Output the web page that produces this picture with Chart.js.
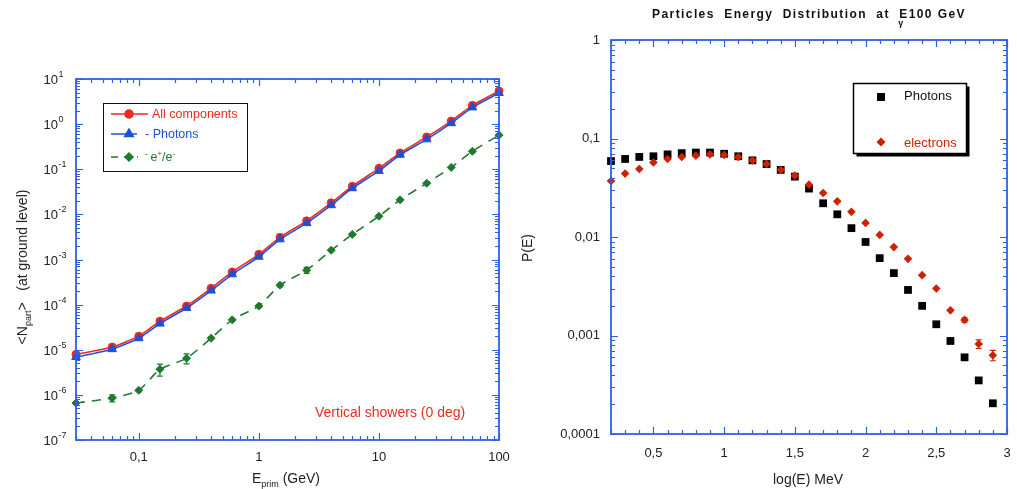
<!DOCTYPE html>
<html>
<head>
<meta charset="utf-8">
<title>Particles at ground level</title>
<script src="https://cdn.jsdelivr.net/npm/chart.js@4.4.1/dist/chart.umd.min.js"></script>
<style>
  html, body { margin: 0; padding: 0; background: #fff; }
  #wrap { position: relative; width: 1017px; height: 489px; overflow: hidden; }
  #left { position: absolute; left: 0; top: 0; }
  #right { position: absolute; left: 510px; top: 0; }
</style>
</head>
<body>
<div id="wrap">
  <canvas id="left" width="510" height="489"></canvas>
  <canvas id="right" width="507" height="489"></canvas>
</div>
<script>
// ---- Left chart: <N_part> at ground level vs primary energy ----
const energies = [0.03, 0.06, 0.1, 0.15, 0.25, 0.4, 0.6, 1, 1.5, 2.5, 4, 6, 10, 15, 25, 40, 60, 100];
const allComponents = [7.9e-6, 1.15e-5, 2.0e-5, 4.3e-5, 9.3e-5, 2.3e-4, 5.3e-4, 1.3e-3, 3.1e-3, 7.2e-3, 1.8e-2, 4.2e-2, 0.105, 0.23, 0.52, 1.17, 2.6, 5.4];
const photons = [6.9e-6, 1.03e-5, 1.8e-5, 3.8e-5, 8.4e-5, 2.05e-4, 4.7e-4, 1.15e-3, 2.8e-3, 6.4e-3, 1.6e-2, 3.8e-2, 0.092, 0.21, 0.46, 1.05, 2.35, 4.9];
const electrons = [6.6e-7, 8.5e-7, 1.26e-6, 3.7e-6, 6.5e-6, 1.8e-5, 4.6e-5, 9.3e-5, 2.7e-4, 5.8e-4, 1.6e-3, 3.6e-3, 9.1e-3, 2.1e-2, 4.9e-2, 0.11, 0.25, 0.57];
// relative errors on e+/e- points
const electronErrors = [0.08, 0.18, 0.06, 0.3, 0.25, 0.06, 0.06, 0.06, 0.08, 0.15, 0.05, 0.05, 0.04, 0.04, 0.03, 0.03, 0.03, 0.03];
const leftXTicks = [0.1, 1, 10, 100];
const leftXLabels = ['0,1', '1', '10', '100'];
const leftYExponents = [-7, -6, -5, -4, -3, -2, -1, 0, 1];

// ---- Right chart: energy distribution at E_gamma = 100 GeV ----
const logE = [0.2, 0.3, 0.4, 0.5, 0.6, 0.7, 0.8, 0.9, 1.0, 1.1, 1.2, 1.3, 1.4, 1.5, 1.6, 1.7, 1.8, 1.9, 2.0, 2.1, 2.2, 2.3, 2.4, 2.5, 2.6, 2.7, 2.8, 2.9];
const photonProb = [0.059, 0.062, 0.065, 0.066, 0.069, 0.071, 0.072, 0.072, 0.070, 0.066, 0.060, 0.055, 0.048, 0.041, 0.031, 0.022, 0.017, 0.0123, 0.0089, 0.0061, 0.0043, 0.0029, 0.0020, 0.0013, 0.00088, 0.00060, 0.00035, 0.000205];
const electronProb = [0.037, 0.044, 0.049, 0.057, 0.062, 0.065, 0.067, 0.069, 0.068, 0.065, 0.060, 0.055, 0.048, 0.042, 0.034, 0.028, 0.023, 0.018, 0.0139, 0.0105, 0.0079, 0.0060, 0.0041, 0.0030, 0.0018, 0.00144, 0.00082, 0.00063];
const electronProbErrors = [0, 0, 0, 0, 0, 0, 0, 0, 0, 0, 0, 0, 0, 0, 0, 0, 0, 0, 0, 0, 0, 0, 0, 0, 0, 0.05, 0.1, 0.12];
const rightXTicks = [0.5, 1, 1.5, 2, 2.5, 3];
const rightYTicks = [0.0001, 0.001, 0.01, 0.1, 1];
const rightYLabels = ['0,0001', '0,001', '0,01', '0,1', '1'];

const AXIS_BLUE = '#2f5fe4';
const RED = '#ec2a1e';
const BLUE = '#1f4fd6';
const GREEN = '#1f7a30';
const DARK_RED = '#cc2200';
const FONT = '"Liberation Sans", Arial, Helvetica, sans-serif';

/**
 * Draw text made of pieces with their own font / offset (sub- and superscripts)
 */
function drawRich(ctx, parts, x, y, align, color) {
  let width = 0;
  parts.forEach(p => { ctx.font = p.font; width += ctx.measureText(p.text).width; });
  let cx = align === 'center' ? x - width / 2 : align === 'right' ? x - width : x;
  ctx.textAlign = 'left';
  ctx.textBaseline = 'alphabetic';
  parts.forEach(p => {
    ctx.font = p.font;
    ctx.fillStyle = p.color || color;
    ctx.fillText(p.text, cx, y + (p.dy || 0));
    cx += ctx.measureText(p.text).width;
  });
}

/**
 * Tick values for a log axis: 1..9 x 10^d inside [min, max]
 */
function logTickValues(min, max) {
  const vals = [];
  for (let d = Math.floor(Math.log10(min)); d <= Math.ceil(Math.log10(max)); d++) {
    for (let k = 1; k <= 9; k++) {
      const v = k * Math.pow(10, d);
      if (v >= min * 0.9999 && v <= max * 1.0001) vals.push({ v, major: k === 1 });
    }
  }
  return vals;
}

function linearTickValues(min, max, step, majorStep) {
  const vals = [];
  for (let v = Math.ceil(min / step - 1e-9) * step; v <= max + 1e-9; v += step) {
    const r = Math.round(v * 1000) / 1000;
    vals.push({ v: r, major: Math.abs(r / majorStep - Math.round(r / majorStep)) < 1e-6 });
  }
  return vals;
}

// keep the plot area exactly where it is in the reference
function noScalePadding(axis) {
  axis.paddingLeft = 0;
  axis.paddingRight = 0;
  axis.paddingTop = 0;
  axis.paddingBottom = 0;
}

/**
 * Blue frame around the plot area with inward ticks on all four sides
 */
function framePlugin(xTickFn, yTickFn) {
  return {
    id: 'frame',
    afterDraw(chart) {
      const { ctx, chartArea: a, scales } = chart;
      const xs = scales.x;
      const ys = scales.y;
      ctx.save();
      ctx.strokeStyle = AXIS_BLUE;
      ctx.lineWidth = 1.2;
      ctx.beginPath();
      xTickFn(xs.min, xs.max).forEach(t => {
        const px = Math.round(xs.getPixelForValue(t.v)) + 0.5;
        const len = t.major ? 7 : 4;
        ctx.moveTo(px, a.bottom); ctx.lineTo(px, a.bottom - len);
        ctx.moveTo(px, a.top); ctx.lineTo(px, a.top + len);
      });
      yTickFn(ys.min, ys.max).forEach(t => {
        const py = Math.round(ys.getPixelForValue(t.v)) + 0.5;
        const len = t.major ? 7 : 4;
        ctx.moveTo(a.left, py); ctx.lineTo(a.left + len, py);
        ctx.moveTo(a.right, py); ctx.lineTo(a.right - len, py);
      });
      ctx.stroke();
      ctx.lineWidth = 1.8;
      ctx.strokeRect(a.left, a.top, a.right - a.left, a.bottom - a.top);
      ctx.restore();
    }
  };
}

/**
 * Vertical error bars drawn from relative errors through the chart scales
 */
function errorBarPlugin(datasetIndex, values, errors, color) {
  return {
    id: 'errorBars' + datasetIndex,
    afterDatasetsDraw(chart) {
      const { ctx, scales } = chart;
      const meta = chart.getDatasetMeta(datasetIndex);
      ctx.save();
      ctx.strokeStyle = color;
      ctx.lineWidth = 1.2;
      meta.data.forEach((pt, i) => {
        const e = errors[i];
        if (!e) return;
        const yTop = scales.y.getPixelForValue(values[i] * (1 + e));
        const yBot = scales.y.getPixelForValue(values[i] * (1 - e));
        ctx.beginPath();
        ctx.moveTo(pt.x, yTop); ctx.lineTo(pt.x, yBot);
        ctx.moveTo(pt.x - 3, yTop); ctx.lineTo(pt.x + 3, yTop);
        ctx.moveTo(pt.x - 3, yBot); ctx.lineTo(pt.x + 3, yBot);
        ctx.stroke();
      });
      ctx.restore();
    }
  };
}

// ---------------- left chart ----------------
const leftDecorations = {
  id: 'leftDecorations',
  afterDraw(chart) {
    const { ctx, scales } = chart;
    ctx.save();
    // y tick labels 10^n
    leftYExponents.forEach(n => {
      const py = scales.y.getPixelForValue(Math.pow(10, n));
      ctx.font = '13px ' + FONT;
      ctx.fillStyle = '#222';
      ctx.textAlign = 'right';
      ctx.textBaseline = 'alphabetic';
      ctx.fillText('10', 58, py + 5);
      ctx.font = '9px ' + FONT;
      ctx.textAlign = 'left';
      ctx.fillText(String(n), 58.5, py - 2);
    });

    // axis titles
    drawRich(ctx, [
      { text: 'E', font: '14px ' + FONT },
      { text: 'prim', font: '9px ' + FONT, dy: 4 },
      { text: ' (GeV)', font: '14px ' + FONT }
    ], 286, 483, 'center', '#222');

    ctx.save();
    ctx.translate(27, 267);
    ctx.rotate(-Math.PI / 2);
    drawRich(ctx, [
      { text: '<N', font: '14px ' + FONT },
      { text: 'part', font: '9px ' + FONT, dy: 4 },
      { text: '>   (at ground level)', font: '14px ' + FONT }
    ], 0, 0, 'center', '#222');
    ctx.restore();

    // legend box
    ctx.strokeStyle = '#111';
    ctx.lineWidth = 1;
    ctx.strokeRect(103.5, 103.5, 144, 68);
    const rows = [
      { y: 114, end: 148, color: RED, dash: [], style: 'circle', r: 4 },
      { y: 134, end: 137, color: BLUE, dash: [], style: 'triangle', r: 5 },
      { y: 157, end: 138, color: GREEN, dash: [7, 6], style: 'rectRot', r: 4 }
    ];
    rows.forEach(row => {
      ctx.strokeStyle = row.color;
      ctx.lineWidth = 1.5;
      ctx.setLineDash(row.dash);
      ctx.beginPath();
      ctx.moveTo(111, row.y); ctx.lineTo(row.end, row.y);
      ctx.stroke();
      ctx.setLineDash([]);
      ctx.fillStyle = row.color;
      Chart.helpers.drawPoint(ctx, { pointStyle: row.style, radius: row.r, borderWidth: 1 }, 129, row.y);
      ctx.fill();
    });
    const legendFont = '12.5px ' + FONT;
    drawRich(ctx, [{ text: 'All components', font: legendFont }], 152, 118, 'left', RED);
    drawRich(ctx, [{ text: '- Photons', font: legendFont }], 145, 138, 'left', BLUE);
    drawRich(ctx, [
      { text: '- ', font: '9px ' + FONT, dy: -4 },
      { text: 'e', font: legendFont },
      { text: '+', font: '8px ' + FONT, dy: -5 },
      { text: '/e', font: legendFont },
      { text: '-', font: '8px ' + FONT, dy: -5 }
    ], 145, 161, 'left', GREEN);

    // annotation
    drawRich(ctx, [{ text: 'Vertical showers (0 deg)', font: '14px ' + FONT }], 315, 417, 'left', RED);
    ctx.restore();
  }
};

function series(xs, ys) {
  return xs.map((x, i) => ({ x, y: ys[i] }));
}

new Chart(document.getElementById('left'), {
  type: 'scatter',
  data: {
    datasets: [
      {
        label: 'All components',
        data: series(energies, allComponents),
        showLine: true,
        borderColor: RED,
        backgroundColor: RED,
        borderWidth: 1.6,
        pointStyle: 'circle',
        pointRadius: 4,
        pointBorderWidth: 1,
        tension: 0.2,
        clip: false,
        order: 2
      },
      {
        label: '- Photons',
        data: series(energies, photons),
        showLine: true,
        borderColor: BLUE,
        backgroundColor: BLUE,
        borderWidth: 1.6,
        pointStyle: 'triangle',
        pointRadius: 5,
        pointBorderWidth: 1,
        tension: 0.2,
        clip: false,
        order: 1
      },
      {
        label: '- e+/e-',
        data: series(energies, electrons),
        showLine: true,
        borderColor: GREEN,
        backgroundColor: GREEN,
        borderWidth: 1.6,
        borderDash: [9, 7],
        pointStyle: 'rectRot',
        pointRadius: 4,
        pointBorderWidth: 1,
        tension: 0.2,
        clip: false,
        order: 3
      }
    ]
  },
  options: {
    responsive: false,
    animation: false,
    events: [],
    layout: { padding: { left: 0, top: 79, right: 11, bottom: 0 } },
    plugins: { legend: { display: false }, tooltip: { enabled: false } },
    scales: {
      x: {
        type: 'logarithmic',
        min: 0.03,
        max: 100,
        border: { display: false },
        grid: { display: false, drawTicks: false },
        afterBuildTicks: axis => { axis.ticks = leftXTicks.map(v => ({ value: v })); },
        afterFit: axis => { axis.height = 49; noScalePadding(axis); },
        ticks: {
          autoSkip: false,
          maxRotation: 0,
          padding: 10,
          color: '#222',
          font: { family: FONT, size: 13 },
          callback: value => leftXLabels[leftXTicks.indexOf(value)] || ''
        }
      },
      y: {
        type: 'logarithmic',
        min: 1e-7,
        max: 10,
        border: { display: false },
        grid: { display: false, drawTicks: false },
        afterBuildTicks: axis => { axis.ticks = leftYExponents.map(n => ({ value: Math.pow(10, n) })); },
        afterFit: axis => { axis.width = 76; noScalePadding(axis); },
        ticks: { display: false }
      }
    }
  },
  plugins: [
    framePlugin(logTickValues, logTickValues),
    errorBarPlugin(2, electrons, electronErrors, GREEN),
    leftDecorations
  ]
});

// ---------------- right chart ----------------
const rightDecorations = {
  id: 'rightDecorations',
  afterDraw(chart) {
    const { ctx } = chart;
    ctx.save();
    // title with gamma subscript under the E
    const bold = 'bold 12px ' + FONT;
    ctx.letterSpacing = '1.4px';
    ctx.font = bold;
    const head = 'Particles  Energy  Distribution  at  ';
    const tail = 'E100 GeV';
    const w = ctx.measureText(head + tail).width;
    const x0 = 299 - w / 2;
    drawRich(ctx, [{ text: head, font: bold }], x0, 18, 'left', '#111');
    ctx.font = bold;
    const xe = x0 + ctx.measureText(head).width;
    drawRich(ctx, [{ text: tail, font: bold }], xe, 18, 'left', '#111');
    ctx.letterSpacing = '0px';
    drawRich(ctx, [{ text: 'γ', font: 'bold 9px ' + FONT }], xe - 1, 26, 'left', '#111');

    // axis titles
    drawRich(ctx, [{ text: 'log(E) MeV', font: '14px ' + FONT }], 298, 484, 'center', '#222');
    ctx.save();
    ctx.translate(22, 248);
    ctx.rotate(-Math.PI / 2);
    drawRich(ctx, [{ text: 'P(E)', font: '14px ' + FONT }], 0, 0, 'center', '#222');
    ctx.restore();

    // legend box with drop shadow
    const bx = 343.5, by = 83.5, bw = 113, bh = 70;
    ctx.fillStyle = '#000';
    ctx.fillRect(bx + 3, by + 3, bw, bh);
    ctx.fillStyle = '#fff';
    ctx.fillRect(bx, by, bw, bh);
    ctx.strokeStyle = '#000';
    ctx.lineWidth = 1.5;
    ctx.strokeRect(bx, by, bw, bh);
    ctx.fillStyle = '#000';
    Chart.helpers.drawPoint(ctx, { pointStyle: 'rect', radius: 5.5, borderWidth: 0 }, 371, 97);
    ctx.fill();
    ctx.fillStyle = DARK_RED;
    Chart.helpers.drawPoint(ctx, { pointStyle: 'rectRot', radius: 4.3, borderWidth: 0 }, 371, 142);
    ctx.fill();
    drawRich(ctx, [{ text: 'Photons', font: '13px ' + FONT }], 394, 100, 'left', '#111');
    drawRich(ctx, [{ text: 'electrons', font: '13px ' + FONT }], 394, 147, 'left', DARK_RED);
    ctx.restore();
  }
};

new Chart(document.getElementById('right'), {
  type: 'scatter',
  data: {
    datasets: [
      {
        label: 'Photons',
        data: series(logE, photonProb),
        backgroundColor: '#000',
        borderColor: '#000',
        pointStyle: 'rect',
        pointRadius: 5.5,
        pointBorderWidth: 0,
        clip: false,
        order: 2
      },
      {
        label: 'electrons',
        data: series(logE, electronProb),
        backgroundColor: DARK_RED,
        borderColor: DARK_RED,
        pointStyle: 'rectRot',
        pointRadius: 4.3,
        pointBorderWidth: 0,
        clip: false,
        order: 1
      }
    ]
  },
  options: {
    responsive: false,
    animation: false,
    events: [],
    layout: { padding: { left: 0, top: 40, right: 10, bottom: 0 } },
    plugins: { legend: { display: false }, tooltip: { enabled: false } },
    scales: {
      x: {
        type: 'linear',
        min: 0.2,
        max: 3,
        border: { display: false },
        grid: { display: false, drawTicks: false },
        afterBuildTicks: axis => { axis.ticks = rightXTicks.map(v => ({ value: v })); },
        afterFit: axis => { axis.height = 55; noScalePadding(axis); },
        ticks: {
          autoSkip: false,
          maxRotation: 0,
          padding: 12,
          color: '#222',
          font: { family: FONT, size: 13 },
          callback: value => String(value).replace('.', ',')
        }
      },
      y: {
        type: 'logarithmic',
        min: 0.0001,
        max: 1,
        border: { display: false },
        grid: { display: false, drawTicks: false },
        afterBuildTicks: axis => { axis.ticks = rightYTicks.map(v => ({ value: v })); },
        afterFit: axis => { axis.width = 101; noScalePadding(axis); },
        ticks: {
          autoSkip: false,
          padding: 11,
          color: '#222',
          font: { family: FONT, size: 13 },
          callback: value => rightYLabels[rightYTicks.indexOf(value)] || ''
        }
      }
    }
  },
  plugins: [
    framePlugin((min, max) => linearTickValues(min, max, 0.1, 0.5), logTickValues),
    errorBarPlugin(1, electronProb, electronProbErrors, DARK_RED),
    rightDecorations
  ]
});
</script>
</body>
</html>
